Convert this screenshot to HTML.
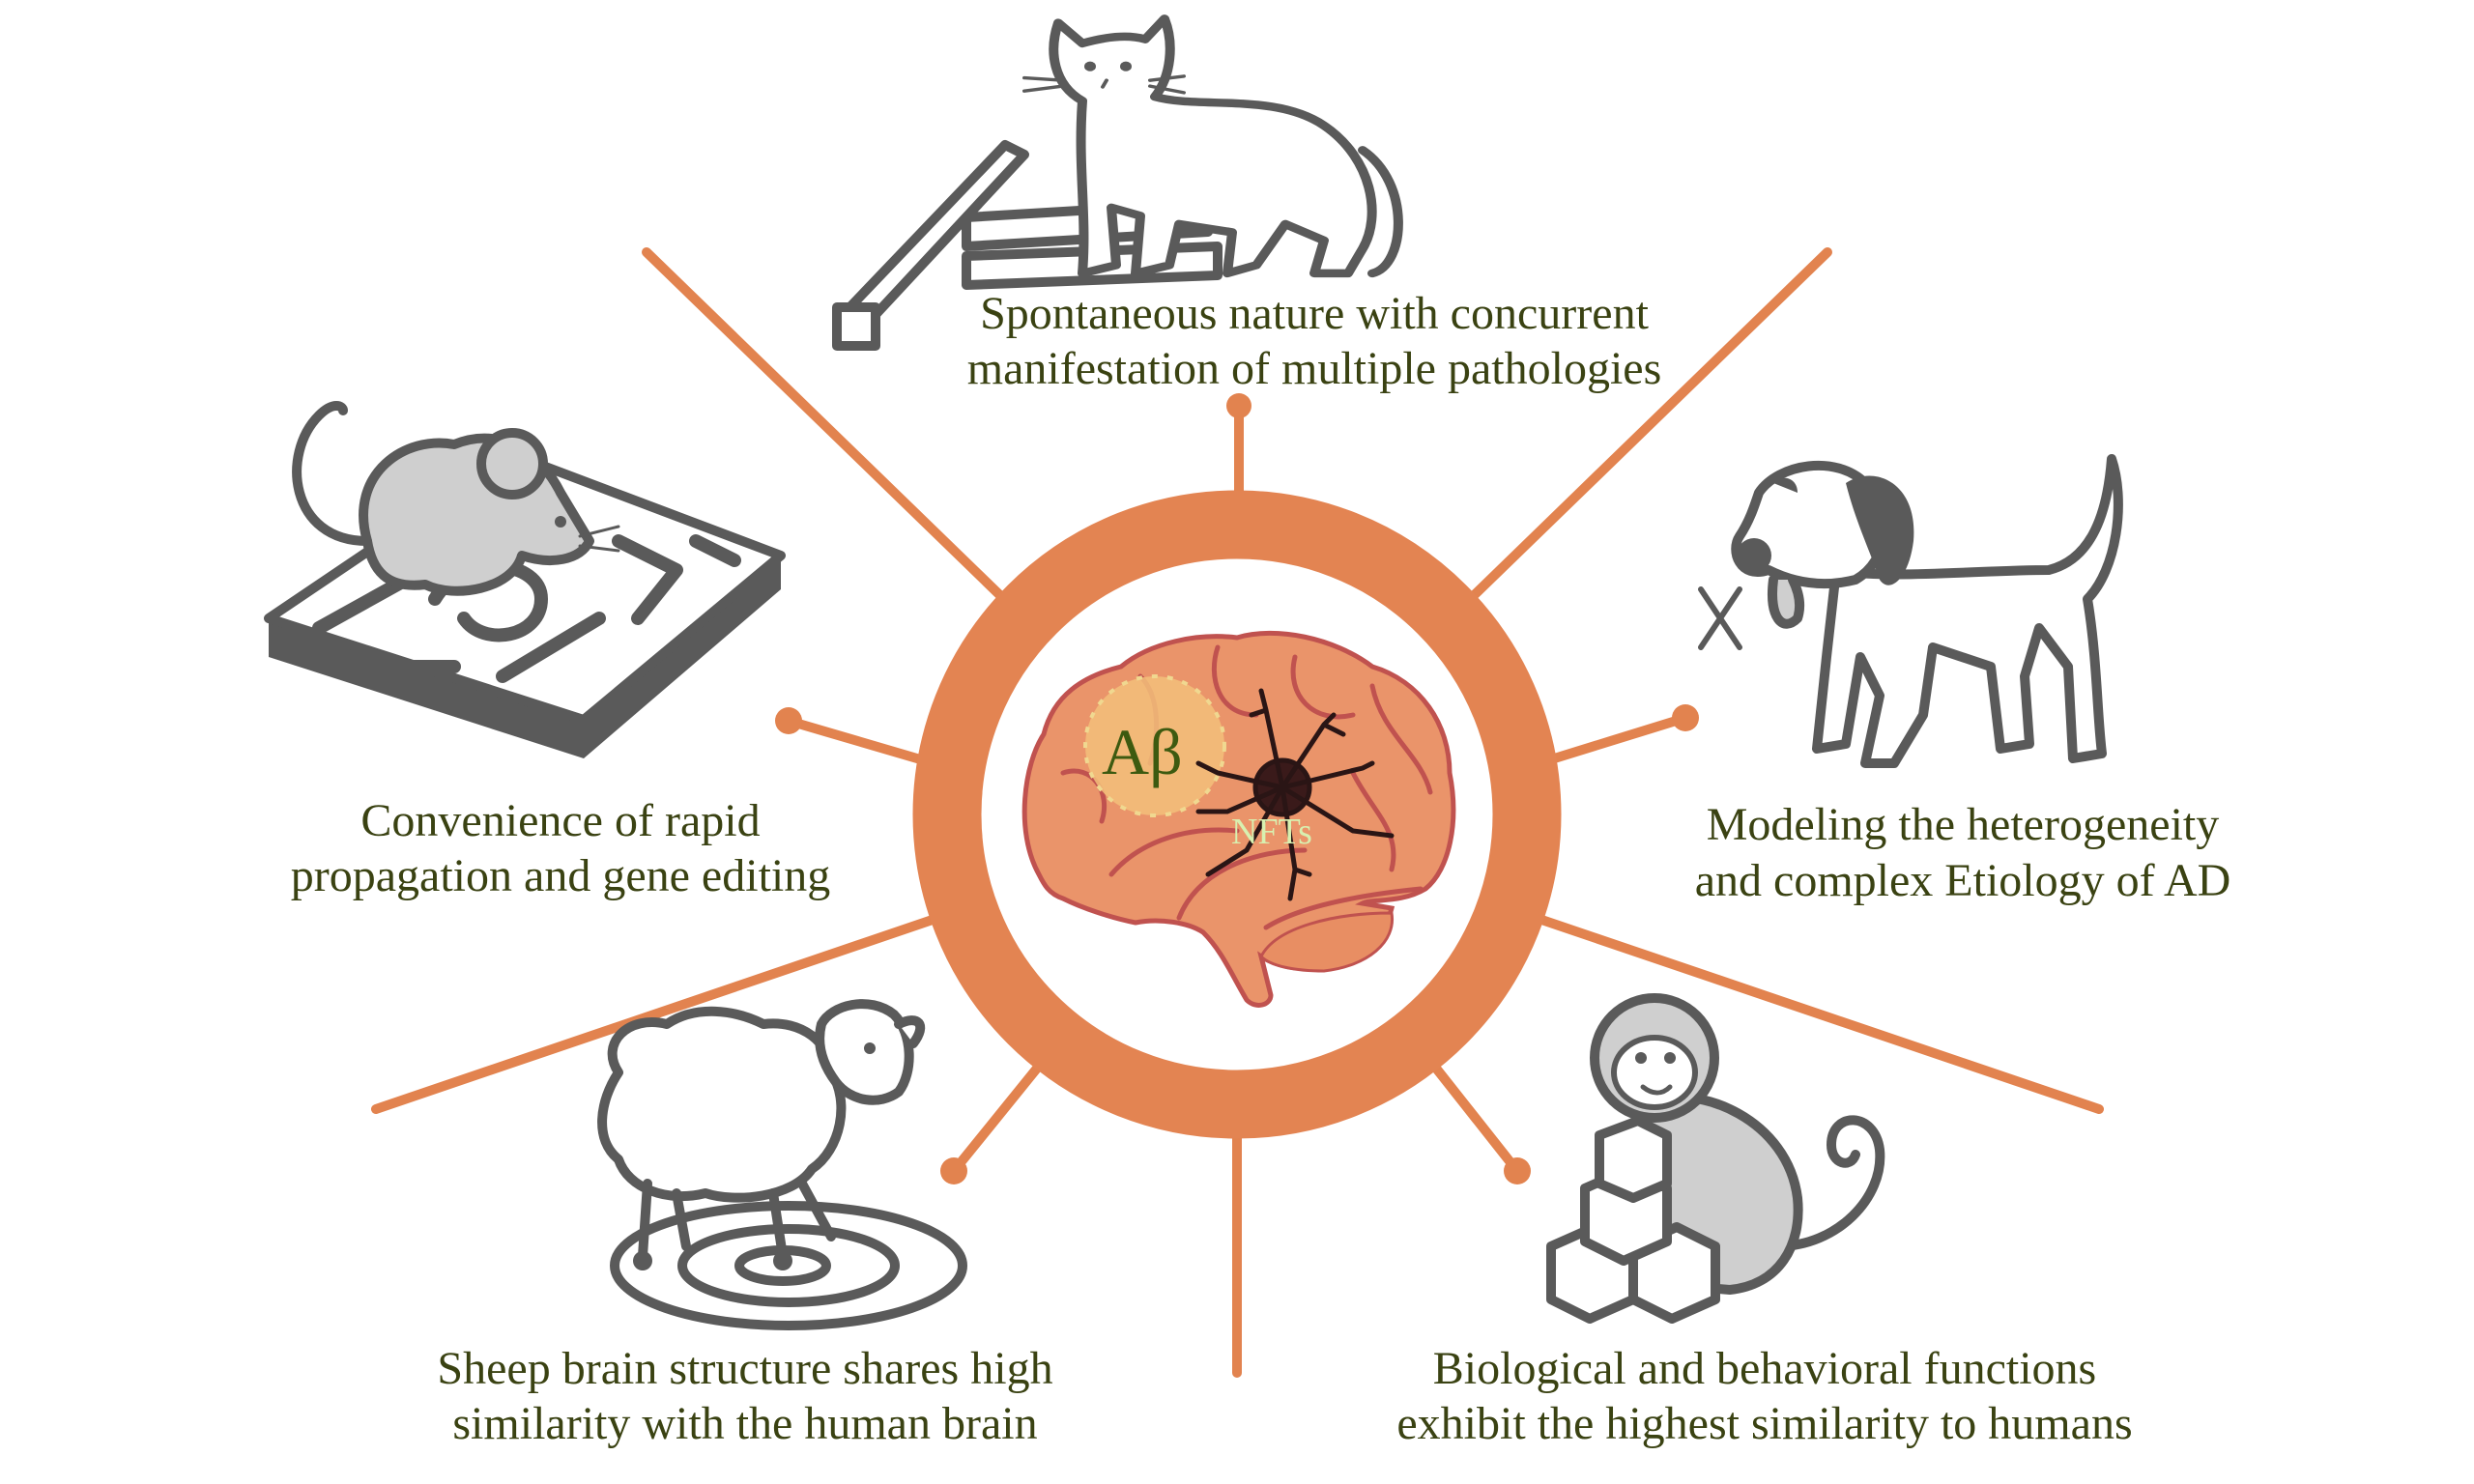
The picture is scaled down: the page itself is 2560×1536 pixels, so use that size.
<!DOCTYPE html>
<html><head><meta charset="utf-8"><style>
html,body{margin:0;padding:0;background:#fff;}
svg{display:block;}
.t{font-family:"Liberation Serif",serif;font-size:48px;fill:#3a4212;text-anchor:middle;}
.g{fill:none;stroke:#5a5a5a;stroke-width:10;stroke-linecap:round;stroke-linejoin:round;}
.gf{fill:#fff;stroke:#5a5a5a;stroke-width:10;stroke-linecap:round;stroke-linejoin:round;}
.gg{fill:#cfcfcf;stroke:#5a5a5a;stroke-width:10;stroke-linecap:round;stroke-linejoin:round;}
.ln{stroke:#e2834f;stroke-width:10;stroke-linecap:round;}
</style></head><body>
<svg width="2560" height="1536" viewBox="0 0 2560 1536" xmlns="http://www.w3.org/2000/svg">
<!-- connector lines -->
<line class="ln" x1="669" y1="261" x2="1080" y2="660"/>
<line class="ln" x1="1891" y1="261" x2="1480" y2="660"/>
<line class="ln" x1="389" y1="1148" x2="1000" y2="940"/>
<line class="ln" x1="2172" y1="1148" x2="1560" y2="940"/>
<line class="ln" x1="1282" y1="420" x2="1282" y2="560"/>
<circle cx="1282" cy="420" r="13" fill="#e2834f"/>
<line class="ln" x1="816" y1="746" x2="1000" y2="800"/>
<circle cx="816" cy="746" r="14" fill="#e2834f"/>
<line class="ln" x1="1744" y1="743" x2="1560" y2="800"/>
<circle cx="1744" cy="743" r="14" fill="#e2834f"/>
<line class="ln" x1="987" y1="1212" x2="1110" y2="1060"/>
<circle cx="987" cy="1212" r="14" fill="#e2834f"/>
<line class="ln" x1="1570" y1="1212" x2="1450" y2="1060"/>
<circle cx="1570" cy="1212" r="14" fill="#e2834f"/>
<line class="ln" x1="1280" y1="1150" x2="1280" y2="1421"/>
<!-- ring -->
<circle cx="1280" cy="843" r="300" fill="#fff" stroke="#e38452" stroke-width="71"/>
<!-- brain -->
<g>
<path d="M1075,905 C1050,860 1060,790 1080,760 C1090,720 1120,700 1160,690 C1190,665 1240,655 1280,660 C1320,648 1380,660 1420,690 C1470,705 1500,750 1500,800 C1510,850 1500,900 1475,920 C1450,935 1420,930 1410,935 L1440,940 C1430,980 1400,1000 1360,1000 C1345,1005 1320,1000 1305,990 L1315,1030 C1315,1040 1300,1045 1290,1035 C1275,1010 1265,985 1245,965 C1230,955 1200,950 1175,955 C1150,950 1120,940 1100,930 C1085,925 1080,915 1075,905 Z" fill="#ea946a" stroke="#c0524f" stroke-width="5"/>
<path d="M1305,990 C1320,960 1380,945 1440,945 C1445,975 1415,1000 1370,1005 C1340,1005 1315,1000 1305,990 Z" fill="#e88e63" stroke="#c0524f" stroke-width="3"/>
<path d="M1150,905 C1180,870 1230,855 1280,860 M1220,950 C1240,900 1300,880 1350,880 M1310,960 C1350,935 1420,925 1470,920 M1180,700 C1200,720 1200,760 1190,790 M1260,670 C1250,700 1260,740 1300,740 M1340,680 C1330,720 1360,750 1400,740 M1420,710 C1430,760 1470,780 1480,820 M1100,800 C1130,790 1150,820 1140,850 M1400,800 C1420,840 1450,860 1440,900" fill="none" stroke="#c0524f" stroke-width="5" stroke-linecap="round"/>
<circle cx="1195" cy="772" r="72" fill="#f3c07a" opacity="0.85"/>
<circle cx="1195" cy="772" r="72" fill="none" stroke="#f0d890" stroke-width="4" stroke-dasharray="6 10"/>
<g stroke="#2a1515" stroke-width="5" fill="none" stroke-linecap="round">
<circle cx="1327" cy="815" r="28" fill="#3a1a1a"/>
<path d="M1327,815 L1310,735 L1305,715 M1310,735 L1295,740 M1327,815 L1370,750 L1380,740 M1370,750 L1390,760 M1327,815 L1410,795 L1420,790 M1327,815 L1400,860 L1440,865 M1327,815 L1340,900 L1335,930 M1340,900 L1355,905 M1327,815 L1270,840 L1240,840 M1327,815 L1290,880 L1250,905 M1327,815 L1260,800 L1240,790"/>
</g>
<text x="1140" y="801" font-family="Liberation Serif,serif" font-size="68" fill="#3d5a10">Aβ</text>
<text x="1274" y="873" font-family="Liberation Serif,serif" font-size="38" fill="#d8f0b0">NFTs</text>
</g>
<!-- cat -->
<g>
<path class="gf" d="M868,330 L1040,150 L1060,160 L888,345 Z"/>
<rect class="gf" x="866" y="318" width="40" height="40"/>
<path class="gf" d="M1000,225 L1250,210 L1250,240 L1000,255 Z"/>
<path class="gf" d="M1000,265 L1260,255 L1260,285 L1000,295 Z"/>
<g transform="translate(0,2.4) scale(1,0.85)">
<path class="gf" d="M1120,120 C1090,100 1085,60 1095,25 L1120,50 C1150,40 1170,40 1185,45 L1205,20 C1215,50 1212,90 1195,115 C1240,130 1320,110 1370,150 C1420,190 1430,260 1410,300 L1395,330 L1360,330 L1370,290 L1330,270 L1300,320 L1270,330 L1275,280 L1220,270 L1210,320 L1175,330 L1180,260 L1150,250 L1155,320 L1120,330 C1125,260 1115,200 1120,120 Z"/>
<path class="g" d="M1410,180 C1460,220 1455,320 1420,330"/>
<circle cx="1128" cy="78" r="6" fill="#5a5a5a"/><circle cx="1165" cy="78" r="6" fill="#5a5a5a"/>
<path class="g" style="stroke-width:4" d="M1145,95 l-4,8 M1100,95 L1060,92 M1100,102 L1060,108 M1190,95 L1225,90 M1190,102 L1225,110"/>
</g>
</g>
<text class="t" x="1360" y="340">Spontaneous nature with concurrent</text>
<text class="t" x="1360" y="397">manifestation of multiple pathologies</text>
<!-- mouse + maze -->
<g>
<path d="M278,640 L278,680 L604,785 L808,610 L808,575 L604,745 Z" fill="#5a5a5a"/>
<path d="M278,640 L530,470 L808,575 L604,745 Z" fill="#fff" stroke="#5a5a5a" stroke-width="10" stroke-linejoin="round"/>
<path class="g" style="stroke-width:14" d="M330,650 L420,600 M360,690 L470,690 M520,700 L620,640 M640,560 L700,590 L660,640 M720,560 L760,580 M450,620 C480,570 560,580 560,620 C560,660 500,670 480,640"/>
<path class="gg" d="M380,560 C360,490 420,450 470,460 C520,440 560,470 580,510 L610,560 C600,580 570,585 540,575 C530,610 470,620 440,605 C400,610 385,590 380,560 Z"/>
<circle class="gg" cx="530" cy="480" r="32"/>
<circle cx="580" cy="540" r="6" fill="#5a5a5a"/>
<path class="g" d="M380,560 C300,560 290,470 330,430 C345,415 355,420 355,425"/>
<path class="g" style="stroke-width:3" d="M600,555 L640,545 M600,565 L640,570"/>
</g>
<text class="t" x="580" y="865">Convenience of rapid</text>
<text class="t" x="580" y="922">propagation and gene editing</text>
<!-- dog -->
<g>
<path class="gf" d="M1900,590 C1950,600 2050,590 2120,590 C2160,580 2180,540 2185,475 C2200,520 2190,590 2160,620 C2170,680 2170,740 2175,780 L2145,785 L2140,690 L2110,650 L2095,700 L2100,770 L2070,775 L2060,690 L2000,670 L1990,740 L1960,790 L1930,790 L1945,720 L1925,680 L1910,770 L1880,775 L1890,680 Z"/>
<path class="gf" d="M1820,510 C1840,480 1900,470 1930,500 C1960,530 1955,580 1920,600 C1880,610 1850,600 1830,590 C1800,600 1790,570 1800,555 C1810,540 1815,525 1820,510 Z"/>
<path d="M1910,500 C1940,480 1985,500 1980,560 C1975,600 1955,615 1945,600 C1935,570 1920,540 1910,500 Z" fill="#5a5a5a"/>
<circle cx="1815" cy="575" r="18" fill="#5a5a5a"/>
<path d="M1835,500 C1845,490 1860,495 1860,510" fill="#5a5a5a"/>
<path class="gg" d="M1835,600 C1830,640 1845,655 1860,640 C1865,625 1860,610 1855,600"/>
<path class="g" style="stroke-width:6" d="M1760,610 L1800,670 M1800,610 L1760,670"/>
</g>
<text class="t" x="2031" y="869">Modeling the heterogeneity</text>
<text class="t" x="2031" y="927">and complex Etiology of AD</text>
<!-- sheep -->
<g>
<ellipse class="g" cx="816" cy="1310" rx="180" ry="62"/>
<ellipse class="g" cx="816" cy="1310" rx="110" ry="38"/>
<ellipse class="g" cx="810" cy="1310" rx="45" ry="16"/>
<path class="gf" d="M640,1110 C620,1080 650,1050 690,1060 C720,1040 760,1045 790,1060 C830,1055 860,1080 860,1110 C880,1140 870,1190 840,1210 C820,1240 760,1245 730,1235 C690,1245 650,1230 640,1200 C615,1180 620,1140 640,1110 Z"/>
<path class="g" d="M670,1225 L665,1300 M700,1235 L710,1290 M800,1235 L810,1300 M830,1225 L860,1280"/>
<path class="gf" d="M850,1060 C860,1040 900,1030 925,1050 C945,1070 945,1110 930,1130 C910,1145 880,1140 865,1120 C850,1100 845,1080 850,1060 Z"/>
<path class="gf" d="M930,1060 C950,1050 960,1060 945,1080"/>
<circle cx="900" cy="1085" r="6" fill="#5a5a5a"/>
<circle cx="665" cy="1305" r="10" fill="#5a5a5a"/><circle cx="810" cy="1305" r="10" fill="#5a5a5a"/>
</g>
<text class="t" x="771" y="1432">Sheep brain structure shares high</text>
<text class="t" x="771" y="1489">similarity with the human brain</text>
<!-- monkey -->
<g>
<path class="g" d="M1840,1290 C1900,1290 1950,1240 1945,1190 C1940,1150 1895,1150 1895,1185 C1895,1205 1915,1210 1920,1195"/>
<path class="gg" d="M1700,1140 C1760,1120 1850,1160 1860,1240 C1865,1290 1840,1330 1790,1335 L1730,1330 C1700,1300 1690,1200 1700,1140 Z"/>
<circle class="gg" cx="1712" cy="1095" r="62"/>
<ellipse cx="1712" cy="1110" rx="42" ry="36" fill="#fff" stroke="#5a5a5a" stroke-width="6"/>
<circle cx="1698" cy="1095" r="6" fill="#5a5a5a"/><circle cx="1728" cy="1095" r="6" fill="#5a5a5a"/>
<path class="g" style="stroke-width:5" d="M1700,1125 C1710,1133 1720,1133 1728,1125"/>
<g class="gf">
<path d="M1605,1290 L1650,1270 L1690,1290 L1690,1345 L1645,1365 L1605,1345 Z"/>
<path d="M1690,1290 L1735,1270 L1775,1290 L1775,1345 L1730,1365 L1690,1345 Z"/>
<path d="M1640,1230 L1685,1210 L1725,1230 L1725,1285 L1680,1305 L1640,1285 Z"/>
<path d="M1655,1175 L1695,1160 L1725,1175 L1725,1225 L1690,1240 L1655,1225 Z"/>
</g>
</g>
<text class="t" x="1826" y="1432">Biological and behavioral functions</text>
<text class="t" x="1826" y="1489">exhibit the highest similarity to humans</text>
</svg>
</body></html>
